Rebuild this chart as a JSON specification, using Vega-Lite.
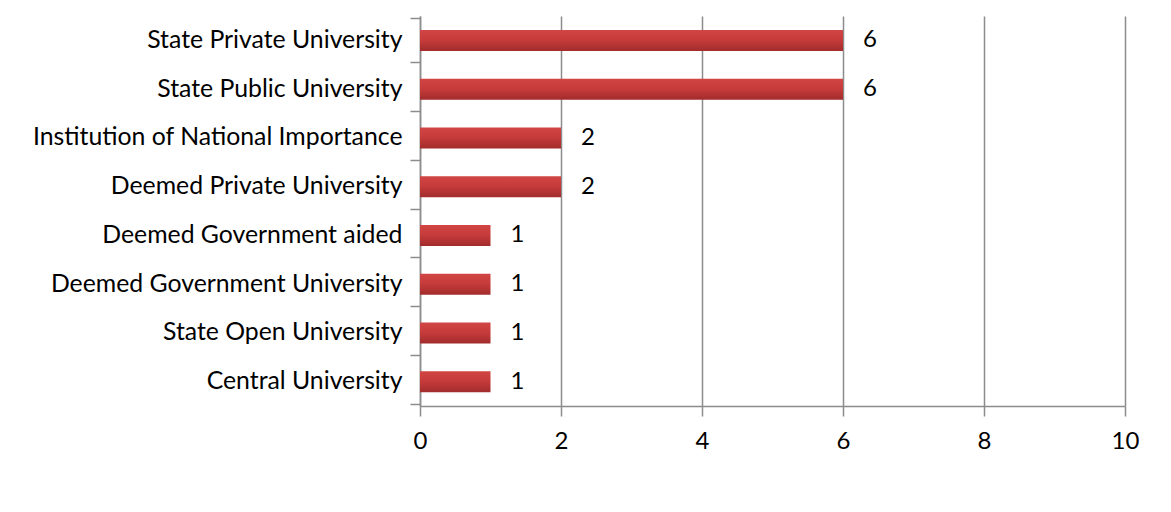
{
  "$schema": "https://vega.github.io/schema/vega-lite/v6.json",
  "autosize": "none",
  "width": 705,
  "height": 390,
  "padding": {"left": 420, "top": 16, "right": 46, "bottom": 106},
  "background": "white",
  "config": {
    "view": {"stroke": null},
    "font": "Lato",
    "axis": {"labelFont": "Lato", "labelColor": "#000000"}
  },
  "data": {
    "values": [
      {"type": "State Private University", "count": 6},
      {"type": "State Public University", "count": 6},
      {"type": "Institution of National Importance", "count": 2},
      {"type": "Deemed Private University", "count": 2},
      {"type": "Deemed Government aided", "count": 1},
      {"type": "Deemed Government University", "count": 1},
      {"type": "State Open University", "count": 1},
      {"type": "Central University", "count": 1}
    ]
  },
  "encoding": {
    "y": {
      "field": "type",
      "type": "nominal",
      "sort": null,
      "axis": {
        "title": null,
        "labelFontSize": 24.8,
        "labelPadding": 8,
        "tickSize": 10,
        "tickColor": "#8c8c8c",
        "tickWidth": 1.5,
        "tickBand": "extent",
        "domainColor": "#8c8c8c",
        "domainWidth": 1.5,
        "labelLimit": 500
      }
    },
    "x": {
      "field": "count",
      "type": "quantitative",
      "scale": {"domain": [0, 10]},
      "axis": {
        "title": null,
        "values": [0, 2, 4, 6, 8, 10],
        "labelFontSize": 24,
        "labelPadding": 13,
        "labelFlush": false,
        "labelOverlap": false,
        "tickSize": 10,
        "tickColor": "#8c8c8c",
        "tickWidth": 1.5,
        "domainColor": "#8c8c8c",
        "domainWidth": 1.5,
        "grid": true,
        "gridColor": "#8c8c8c",
        "gridWidth": 1.5
      }
    }
  },
  "layer": [
    {
      "mark": {
        "type": "bar",
        "size": 21,
        "color": {
          "gradient": "linear",
          "x1": 0, "y1": 0, "x2": 0, "y2": 1,
          "stops": [
            {"offset": 0, "color": "#d24545"},
            {"offset": 0.5, "color": "#c53a3a"},
            {"offset": 1, "color": "#a22c2c"}
          ]
        }
      }
    },
    {
      "mark": {"type": "text", "align": "left", "baseline": "middle", "dx": 20, "fontSize": 24, "color": "#000000"},
      "encoding": {"text": {"field": "count", "type": "quantitative"}}
    }
  ]
}
